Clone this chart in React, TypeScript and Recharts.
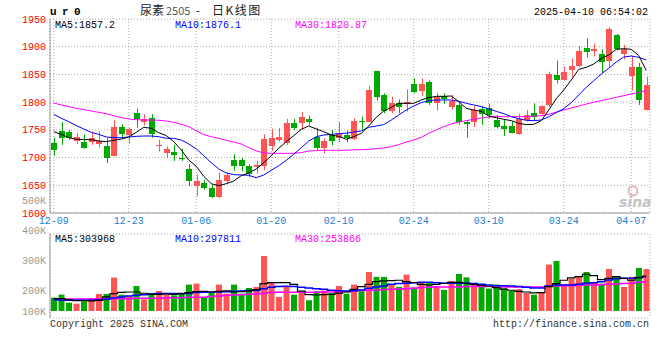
import React from 'react';
import { ComposedChart, Bar, Line, XAxis, YAxis, CartesianGrid, Cell } from 'recharts';

const dates = [
  '12-09', '12-10', '12-11', '12-12', '12-13', '12-16', '12-17', '12-18', '12-19', '12-20',
  '12-23', '12-24', '12-25', '12-26', '12-27', '12-30', '12-31', '01-02', '01-03', '01-06',
  '01-07', '01-08', '01-09', '01-10', '01-13', '01-14', '01-15', '01-16', '01-17', '01-20',
  '01-21', '01-22', '01-23', '01-24', '01-27', '02-05', '02-06', '02-07', '02-10', '02-11',
  '02-12', '02-13', '02-14', '02-17', '02-18', '02-19', '02-20', '02-21', '02-24', '02-25',
  '02-26', '02-27', '02-28', '03-03', '03-04', '03-05', '03-06', '03-07', '03-10', '03-11',
  '03-12', '03-13', '03-14', '03-17', '03-18', '03-19', '03-20', '03-21', '03-24', '03-25',
  '03-26', '03-27', '03-28', '03-31', '04-01', '04-02', '04-03', '04-07', '04-08', '04-09',
];
const tickDates = ['12-09', '12-23', '01-06', '01-20', '02-10', '02-24', '03-10', '03-24', '04-07'];
const priceTicks = [1600, 1650, 1700, 1750, 1800, 1850, 1900, 1950];
const volTicks = [100, 200, 300, 400, 500];

const opens = [
  1727, 1748, 1746, 1730, 1728, 1728, 1725, 1720, 1703, 1755,
  1740, 1780, 1765, 1771, 1720, 1708, 1710, 1700, 1679, 1648,
  1654, 1645, 1628, 1658, 1696, 1696, 1685, 1683, 1685, 1720,
  1731, 1727, 1762, 1762, 1770, 1738, 1718, 1740, 1736, 1741,
  1734, 1766, 1765, 1856, 1813, 1784, 1798, 1797, 1833, 1821,
  1836, 1798, 1811, 1791, 1795, 1765, 1765, 1787, 1789, 1768,
  1757, 1757, 1742, 1767, 1780, 1779, 1795, 1849, 1840, 1858,
  1865, 1897, 1893, 1887, 1875, 1921, 1886, 1847, 1863, 1785,
];
const highs = [
  1736, 1764, 1750, 1744, 1742, 1747, 1748, 1735, 1768, 1760,
  1753, 1788, 1778, 1778, 1732, 1720, 1723, 1716, 1688, 1669,
  1660, 1652, 1673, 1673, 1706, 1700, 1688, 1694, 1742, 1752,
  1753, 1770, 1770, 1782, 1776, 1753, 1735, 1750, 1764, 1749,
  1771, 1774, 1829, 1857, 1816, 1810, 1805, 1823, 1843, 1843,
  1839, 1817, 1816, 1813, 1798, 1767, 1793, 1793, 1797, 1777,
  1768, 1765, 1779, 1786, 1798, 1794, 1855, 1875, 1864, 1879,
  1901, 1915, 1906, 1895, 1935, 1923, 1903, 1883, 1871, 1846,
];
const lows = [
  1703, 1723, 1732, 1724, 1716, 1723, 1718, 1690, 1702, 1735,
  1725, 1754, 1758, 1736, 1711, 1699, 1694, 1694, 1649, 1630,
  1642, 1627, 1627, 1652, 1676, 1675, 1665, 1671, 1677, 1712,
  1729, 1723, 1750, 1750, 1759, 1714, 1707, 1722, 1728, 1728,
  1732, 1748, 1763, 1803, 1780, 1780, 1780, 1783, 1816, 1811,
  1795, 1785, 1797, 1786, 1759, 1736, 1755, 1759, 1771, 1753,
  1739, 1744, 1741, 1765, 1768, 1777, 1791, 1834, 1839, 1846,
  1864, 1881, 1883, 1853, 1863, 1893, 1877, 1821, 1795, 1785,
];
const closes = [
  1714, 1736, 1735, 1737, 1718, 1736, 1729, 1699, 1755, 1743,
  1751, 1770, 1770, 1742, 1723, 1716, 1705, 1697, 1658, 1658,
  1646, 1629, 1660, 1669, 1685, 1685, 1671, 1687, 1734, 1736,
  1738, 1762, 1754, 1773, 1765, 1718, 1730, 1730, 1744, 1735,
  1766, 1764, 1822, 1810, 1784, 1799, 1791, 1801, 1819, 1833,
  1799, 1810, 1805, 1802, 1765, 1761, 1786, 1778, 1777, 1756,
  1752, 1745, 1769, 1776, 1774, 1793, 1851, 1840, 1855, 1865,
  1892, 1891, 1895, 1873, 1932, 1895, 1895, 1864, 1804, 1831,
];
const ma5 = [
  1746.7, 1741.9, 1735.9, 1732.9, 1732.3, 1732.3, 1729.9, 1728.7, 1731.1, 1733.5,
  1737.1, 1745.5, 1754.6, 1752.8, 1744.9, 1739.5, 1728.7, 1713.7, 1695.6, 1684.2,
  1666.2, 1652.9, 1649.3, 1652.9, 1657.7, 1667.4, 1672.2, 1679.4, 1690.8, 1703.4,
  1716.7, 1728.7, 1739.5, 1750.9, 1757.0, 1751.6, 1746.7, 1740.7, 1738.3, 1732.9,
  1737.7, 1743.7, 1757.0, 1772.6, 1784.0, 1790.7, 1797.9, 1797.9, 1797.9, 1803.9,
  1808.1, 1810.5, 1810.5, 1811.1, 1800.9, 1788.9, 1785.8, 1783.4, 1775.0, 1772.0,
  1769.0, 1766.6, 1761.8, 1759.4, 1760.0, 1766.6, 1785.8, 1806.3, 1821.9, 1839.9,
  1859.2, 1862.8, 1868.8, 1879.0, 1885.0, 1895.3, 1896.5, 1895.3, 1884.0, 1857.2,
];
const ma10 = [
  1778.0, 1770.8, 1764.8, 1757.6, 1751.6, 1745.5, 1741.9, 1737.1, 1735.9, 1735.9,
  1737.1, 1738.3, 1738.9, 1738.9, 1737.7, 1734.7, 1734.7, 1731.7, 1724.5, 1715.8,
  1703.4, 1690.8, 1679.4, 1672.2, 1669.2, 1668.6, 1668.0, 1663.7, 1668.6, 1677.0,
  1685.4, 1695.0, 1705.8, 1717.9, 1729.9, 1737.7, 1740.7, 1741.9, 1743.1, 1744.0,
  1746.2, 1748.0, 1754.6, 1757.0, 1759.4, 1767.8, 1776.8, 1785.8, 1793.1, 1799.1,
  1802.7, 1803.9, 1803.9, 1803.9, 1801.5, 1797.9, 1794.9, 1791.9, 1788.0, 1783.4,
  1779.2, 1773.8, 1770.2, 1767.2, 1766.6, 1767.8, 1773.8, 1781.0, 1788.2, 1799.1,
  1812.9, 1826.7, 1838.7, 1850.8, 1861.0, 1872.4, 1881.4, 1883.2, 1880.8, 1876.1,
];
const ma30 = [
  1798.5, 1794.9, 1791.9, 1788.8, 1786.4, 1784.0, 1781.6, 1779.2, 1775.6, 1772.0,
  1769.6, 1768.4, 1767.8, 1767.8, 1767.2, 1766.0, 1763.6, 1760.0, 1755.8, 1748.0,
  1741.3, 1737.7, 1734.7, 1731.1, 1728.1, 1724.5, 1717.9, 1711.9, 1708.3, 1707.7,
  1707.7, 1707.7, 1707.7, 1708.9, 1711.9, 1712.5, 1713.1, 1713.1, 1713.1, 1713.3,
  1713.9, 1714.3, 1714.9, 1716.1, 1717.3, 1719.7, 1723.3, 1728.1, 1731.7, 1736.5,
  1743.7, 1749.8, 1755.8, 1760.6, 1764.2, 1766.6, 1769.0, 1771.4, 1773.2, 1774.4,
  1773.8, 1773.8, 1773.8, 1773.8, 1774.4, 1775.6, 1778.0, 1782.2, 1785.8, 1789.4,
  1793.0, 1796.6, 1799.7, 1802.7, 1805.7, 1808.7, 1811.7, 1814.7, 1817.4, 1820.87,
];
// volume in thousands
const volumes = [
  116, 142, 72, 64, 84, 113, 148, 148, 290, 142,
  130, 217, 101, 157, 174, 142, 136, 151, 229, 238,
  122, 157, 229, 151, 229, 151, 200, 209, 478, 252,
  122, 214, 142, 159, 93, 171, 177, 155, 217, 150,
  229, 171, 339, 296, 296, 235, 209, 316, 205, 248,
  246, 217, 183, 261, 322, 292, 244, 212, 195, 230,
  200, 175, 190, 157, 142, 165, 403, 435, 232, 281,
  301, 339, 246, 238, 365, 304, 209, 296, 374, 365,
];
const vma5 = [
  107, 107, 96, 90, 90, 87, 93, 122, 151, 162,
  165, 165, 154, 145, 145, 148, 145, 151, 160, 168,
  171, 165, 171, 174, 165, 168, 174, 186, 238, 246,
  246, 246, 232, 172, 142, 139, 142, 145, 155, 165,
  188, 212, 232, 255, 261, 264, 267, 255, 246, 232,
  226, 232, 241, 249, 249, 241, 232, 223, 215, 203,
  188, 180, 171, 165, 157, 160, 212, 238, 267, 287,
  299, 319, 307, 272, 284, 299, 284, 267, 290, 303.968,
];
const vma10 = [
  98, 96, 93, 93, 93, 93, 96, 101, 113, 122,
  130, 136, 142, 148, 151, 151, 151, 151, 151, 160,
  162, 165, 165, 168, 171, 174, 177, 177, 194, 206,
  212, 214, 212, 206, 200, 194, 188, 180, 176, 174,
  175, 183, 197, 209, 217, 232, 238, 241, 246, 249,
  249, 246, 241, 241, 241, 241, 238, 232, 226, 220,
  220, 217, 212, 206, 200, 200, 217, 226, 226, 226,
  232, 241, 246, 255, 270, 281, 284, 284, 290, 297.811,
];
const vma30 = [
  107, 104, 104, 104, 104, 104, 107, 107, 107, 107,
  107, 110, 110, 110, 110, 116, 116, 116, 119, 119,
  119, 125, 130, 136, 139, 142, 145, 148, 154, 160,
  162, 162, 162, 162, 162, 163, 164, 166, 168, 170,
  174, 177, 180, 183, 186, 188, 191, 194, 197, 203,
  206, 209, 209, 209, 209, 212, 212, 212, 212, 209,
  209, 209, 209, 209, 209, 209, 215, 217, 220, 220,
  223, 226, 226, 229, 232, 235, 238, 241, 249, 253.866,
];

const rows = dates.map((date, i) => ({
  date,
  open: opens[i],
  high: highs[i],
  low: lows[i],
  close: closes[i],
  ma5: ma5[i],
  ma10: ma10[i],
  ma30: ma30[i],
  vol: volumes[i],
  vma5: vma5[i],
  vma10: vma10[i],
  vma30: vma30[i],
}));

const RED = '#ff5454';
const GREEN = '#00a800';
const FRAME = '#999';
const MONO = "'Liberation Mono', 'DejaVu Sans Mono', monospace";
const last = (a: number[]) => a[a.length - 1];

const Candle = (props: any) => {
  const { x, y, width, height, payload } = props;
  const up = payload.close >= payload.open;
  const color = up ? RED : GREEN;
  const span = payload.high - payload.low;
  const k = span > 0 ? height / span : 0;
  const top = y + (payload.high - Math.max(payload.open, payload.close)) * k;
  const bot = y + (payload.high - Math.min(payload.open, payload.close)) * k;
  const bx = Math.round(x);
  const w = Math.round(width);
  const cx = bx + 3.5;
  return (
    <g>
      <line x1={cx} x2={cx} y1={y} y2={y + height} stroke={color} strokeWidth={1} />
      <rect x={bx} y={Math.round(top)} width={w} height={Math.max(1, Math.round(bot) - Math.round(top))} fill={color} />
    </g>
  );
};

const VolTick = (props: any) => {
  const { x, y, payload } = props;
  return (
    <text x={x} y={Math.min(y, 311)} dy={3.5} textAnchor="end" fill="#999" fontSize={10} fontFamily={MONO}>
      {payload.value}K
    </text>
  );
};

export default function App() {
  return (
    <div style={{ position: 'absolute', left: 0, top: 0, width: 660, height: 360, background: '#fff', overflow: 'hidden' }}>
      <div style={{ position: 'absolute', left: 0, top: 0 }}>
        <ComposedChart width={660} height={360} data={rows} margin={{ top: 234, right: 10, bottom: 42, left: 0 }}>
          <CartesianGrid stroke="#aaa" strokeDasharray="1 2" />
          <XAxis dataKey="date" height={0} ticks={tickDates} interval={0} tick={false} tickLine={false} axisLine={{ stroke: FRAME }} />
          <XAxis xAxisId="t" orientation="top" dataKey="date" height={0} tick={false} tickLine={false} axisLine={{ stroke: FRAME }} />
          <YAxis
            yAxisId="lbl"
            width={50}
            domain={[106.7, 386.7]}
            ticks={volTicks}
            interval={0}
            allowDataOverflow
            tickSize={0}
            tickMargin={4}
            tickLine={false}
            tick={<VolTick />}
            axisLine={{ stroke: FRAME }}
          />
          <YAxis
            orientation="right"
            width={0}
            domain={[-61, 669]}
            ticks={[121.5, 304, 486.5]}
            interval={0}
            allowDataOverflow
            tick={false}
            tickLine={false}
            axisLine={{ stroke: FRAME }}
          />
          <Bar dataKey="vol" barSize={6} isAnimationActive={false}>
            {rows.map((r, i) => (
              <Cell key={i} fill={r.close >= r.open ? RED : GREEN} />
            ))}
          </Bar>
          <Line dataKey="vma30" type="step" stroke="#ff00ff" strokeWidth={1.5} dot={false} activeDot={false} isAnimationActive={false} />
          <Line dataKey="vma10" type="step" stroke="#0000ff" strokeWidth={1.5} dot={false} activeDot={false} isAnimationActive={false} />
          <Line dataKey="vma5" type="step" stroke="#000" strokeWidth={1.2} dot={false} activeDot={false} isAnimationActive={false} />
        </ComposedChart>
      </div>

      <div style={{ position: 'absolute', left: 0, top: 0 }}>
        <ComposedChart width={660} height={230} data={rows} margin={{ top: 19, right: 10, bottom: 0, left: 0 }}>
          <CartesianGrid stroke="#aaa" strokeDasharray="1 2" />
          <XAxis
            dataKey="date"
            height={17}
            ticks={tickDates}
            interval={0}
            tickSize={0}
            tickMargin={4}
            tickLine={false}
            tick={{ fill: '#1a7fd0', fontSize: 10, fontFamily: MONO }}
            axisLine={{ stroke: FRAME }}
          />
          <XAxis xAxisId="t" orientation="top" dataKey="date" height={0} tick={false} tickLine={false} axisLine={{ stroke: FRAME }} />
          <YAxis
            width={50}
            domain={[1600, 1950]}
            ticks={priceTicks}
            interval={0}
            allowDataOverflow
            tickSize={0}
            tickMargin={4}
            tickLine={false}
            tick={{ fill: '#ff0000', fontSize: 10, fontFamily: MONO }}
            axisLine={{ stroke: FRAME }}
          />
          <YAxis yAxisId="r" orientation="right" width={0} domain={[0, 1]} tick={false} tickLine={false} axisLine={{ stroke: FRAME }} />
          <Bar dataKey={(d: any) => [d.low, d.high]} barSize={6} shape={<Candle />} isAnimationActive={false} />
          <Line dataKey="ma30" stroke="#ff00ff" strokeWidth={1} dot={false} activeDot={false} isAnimationActive={false} />
          <Line dataKey="ma10" stroke="#0000ff" strokeWidth={1} dot={false} activeDot={false} isAnimationActive={false} />
          <Line dataKey="ma5" stroke="#000" strokeWidth={1} dot={false} activeDot={false} isAnimationActive={false} />
        </ComposedChart>
      </div>

      <svg width={660} height={360} style={{ position: 'absolute', left: 0, top: 0, pointerEvents: 'none' }}>
        <text x={50} y={15} fontSize={11} fontWeight="bold" fontFamily={MONO} letterSpacing={5.4} fill="#000">ur0</text>
        <text y={14.5} fontSize={12} fontFamily="'Noto Sans CJK SC', sans-serif" fill="#222">
          <tspan x={140}>尿素</tspan>
          <tspan x={166} fill="#555" fontSize={11}>2505</tspan>
          <tspan x={193}> - </tspan>
          <tspan x={212} letterSpacing={1.5}>日K线图</tspan>
        </text>
        <text x={648} y={15} textAnchor="end" fontSize={10} fontFamily={MONO} fill="#000">2025-04-10 06:54:02</text>

        <text y={27.5} fontSize={10} fontFamily={MONO}>
          <tspan x={55} fill="#000">MA5:{last(ma5)}</tspan>
          <tspan x={175} fill="#0000ff">MA10:{last(ma10)}</tspan>
          <tspan x={295} fill="#ff00ff">MA30:{last(ma30)}</tspan>
        </text>
        <text y={241.5} fontSize={10} fontFamily={MONO}>
          <tspan x={55} fill="#000">MA5:{Math.round(last(vma5) * 1000)}</tspan>
          <tspan x={175} fill="#0000ff">MA10:{Math.round(last(vma10) * 1000)}</tspan>
          <tspan x={295} fill="#ff00ff">MA30:{Math.round(last(vma30) * 1000)}</tspan>
        </text>

        <circle cx={633} cy={191} r={4.5} fill="none" stroke="#e3b8b8" strokeWidth={2} />
        <text x={619} y={207} fontSize={14} fontStyle="italic" fontWeight="bold" fontFamily="'DejaVu Sans', sans-serif" fill="#c4c4c4">sina</text>

        <text x={50} y={327} fontSize={10} fontFamily={MONO} fill="#333">Copyright 2025 SINA.COM</text>
        <text x={649} y={327} textAnchor="end" fontSize={10} fontFamily={MONO} fill="#333">http://finance.sina.com.cn</text>
      </svg>
    </div>
  );
}
